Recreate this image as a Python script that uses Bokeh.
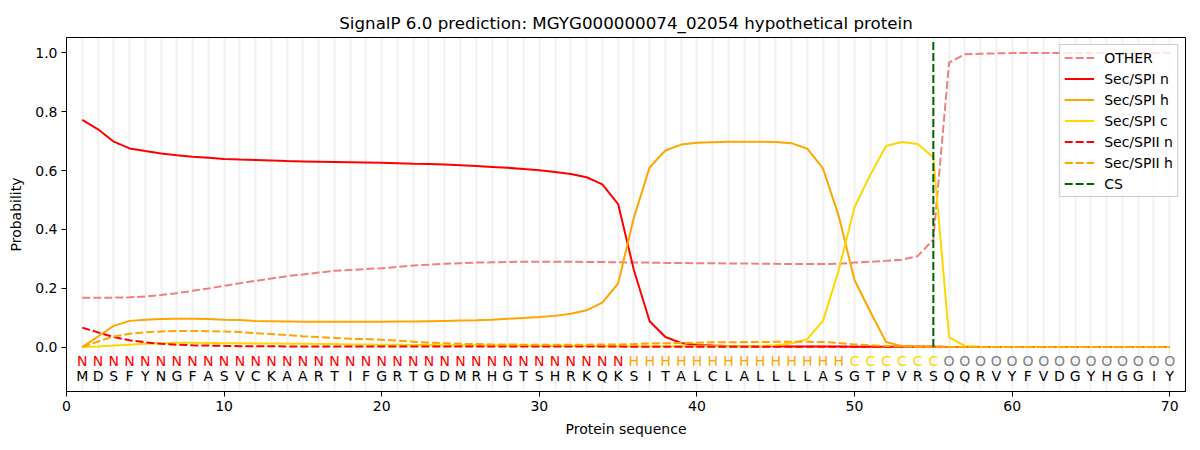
from bokeh.plotting import figure
from bokeh.models import FixedTicker, Range1d, ColumnDataSource, NumeralTickFormatter
from bokeh.core.properties import value
from bokeh.embed import file_html
from bokeh.resources import INLINE

title_text = "SignalP 6.0 prediction: MGYG000000074_02054 hypothetical protein"

sequence = list("MDSFYNGFASVCKAARTIFGRTGDMRHGTSHRKQKSITALCLALLLLASGTPVRSQQRVYFVDGYHGGIY")
annotation = list("N" * 35 + "H" * 14 + "C" * 6 + "O" * 15)
positions = list(range(1, 71))

other = [0.168, 0.168, 0.168, 0.169, 0.172, 0.177, 0.183, 0.191, 0.199, 0.208,
         0.217, 0.225, 0.233, 0.241, 0.247, 0.253, 0.259, 0.262, 0.265, 0.268,
         0.272, 0.277, 0.280, 0.283, 0.285, 0.287, 0.288, 0.289, 0.290, 0.290,
         0.290, 0.290, 0.289, 0.289, 0.288, 0.287, 0.287, 0.286, 0.286, 0.285,
         0.285, 0.284, 0.284, 0.283, 0.283, 0.282, 0.282, 0.282, 0.283, 0.287,
         0.290, 0.293, 0.297, 0.309, 0.365, 0.967, 0.995, 0.997, 0.998, 0.999,
         0.999, 0.999, 0.999, 0.999, 0.999, 0.999, 0.999, 0.999, 0.999, 0.999]

sec_spi_n = [0.772, 0.740, 0.698, 0.675, 0.666, 0.658, 0.652, 0.647, 0.643, 0.639,
             0.637, 0.636, 0.634, 0.632, 0.631, 0.630, 0.629, 0.628, 0.627, 0.626,
             0.625, 0.623, 0.622, 0.620, 0.618, 0.615, 0.612, 0.609, 0.605, 0.601,
             0.595, 0.588, 0.577, 0.553, 0.486, 0.262, 0.088, 0.034, 0.014, 0.007,
             0.005, 0.004, 0.003, 0.003, 0.003, 0.002, 0.002, 0.002, 0.002, 0.001,
             0.001, 0.001, 0.001, 0.001, 0.001, 0.0, 0.0, 0.0, 0.0, 0.0,
             0.0, 0.0, 0.0, 0.0, 0.0, 0.0, 0.0, 0.0, 0.0, 0.0]

sec_spi_h = [0.0, 0.036, 0.072, 0.089, 0.093, 0.095, 0.096, 0.096, 0.095, 0.093,
             0.092, 0.089, 0.088, 0.087, 0.086, 0.086, 0.086, 0.086, 0.086, 0.086,
             0.087, 0.087, 0.088, 0.089, 0.090, 0.091, 0.093, 0.096, 0.099, 0.102,
             0.106, 0.113, 0.125, 0.151, 0.216, 0.440, 0.611, 0.668, 0.688, 0.694,
             0.696, 0.698, 0.698, 0.698, 0.697, 0.693, 0.674, 0.607, 0.445, 0.228,
             0.120, 0.017, 0.003, 0.001, 0.0, 0.0, 0.0, 0.0, 0.0, 0.0,
             0.0, 0.0, 0.0, 0.0, 0.0, 0.0, 0.0, 0.0, 0.0, 0.0]

sec_spi_c = [0.0, 0.002, 0.005, 0.008, 0.011, 0.013, 0.015, 0.015, 0.014, 0.013,
             0.013, 0.012, 0.012, 0.011, 0.011, 0.010, 0.010, 0.009, 0.009, 0.008,
             0.008, 0.007, 0.007, 0.006, 0.006, 0.006, 0.005, 0.005, 0.005, 0.004,
             0.004, 0.004, 0.004, 0.003, 0.003, 0.003, 0.003, 0.003, 0.003, 0.003,
             0.003, 0.003, 0.003, 0.004, 0.006, 0.012, 0.027, 0.089, 0.262, 0.475,
             0.585, 0.683, 0.697, 0.690, 0.645, 0.033, 0.004, 0.001, 0.0, 0.0,
             0.0, 0.0, 0.0, 0.0, 0.0, 0.0, 0.0, 0.0, 0.0, 0.0]

sec_spii_n = [0.066, 0.050, 0.034, 0.023, 0.016, 0.011, 0.008, 0.006, 0.005, 0.004,
              0.003, 0.003, 0.003, 0.002, 0.002, 0.002, 0.002, 0.002, 0.002, 0.002,
              0.002, 0.002, 0.002, 0.002, 0.002, 0.002, 0.002, 0.002, 0.002, 0.002,
              0.002, 0.002, 0.002, 0.002, 0.002, 0.001, 0.001, 0.001, 0.001, 0.001,
              0.001, 0.001, 0.001, 0.001, 0.001, 0.001, 0.001, 0.001, 0.001, 0.001,
              0.001, 0.001, 0.001, 0.001, 0.001, 0.0, 0.0, 0.0, 0.0, 0.0,
              0.0, 0.0, 0.0, 0.0, 0.0, 0.0, 0.0, 0.0, 0.0, 0.0]

sec_spii_h = [0.0, 0.019, 0.036, 0.045, 0.050, 0.053, 0.055, 0.055, 0.054, 0.053,
              0.051, 0.047, 0.044, 0.041, 0.037, 0.034, 0.031, 0.028, 0.027, 0.025,
              0.022, 0.018, 0.015, 0.013, 0.011, 0.010, 0.009, 0.009, 0.008, 0.008,
              0.008, 0.008, 0.008, 0.009, 0.009, 0.010, 0.012, 0.013, 0.014, 0.015,
              0.016, 0.016, 0.017, 0.017, 0.018, 0.018, 0.018, 0.017, 0.014, 0.009,
              0.006, 0.004, 0.002, 0.001, 0.001, 0.0, 0.0, 0.0, 0.0, 0.0,
              0.0, 0.0, 0.0, 0.0, 0.0, 0.0, 0.0, 0.0, 0.0, 0.0]

cs_position = 55
cs_extent = [0.0, 1.04]

x_ticks = [0, 10, 20, 30, 40, 50, 60, 70]
y_ticks = [0.0, 0.2, 0.4, 0.6, 0.8, 1.0]

label_colors = {"N": "#ff0000", "H": "#ffa500", "C": "#ffd700", "O": "#808080"}

FONT = "DejaVu Sans"
FS = "14px"

p = figure(frame_width=1119, frame_height=354,
           x_range=Range1d(0, 71), y_range=Range1d(-0.151, 1.052),
           output_backend="svg", toolbar_location=None, title=title_text,
           min_border_left=66, min_border_right=7, min_border_top=37, min_border_bottom=51,
           background_fill_color="white", border_fill_color="white")

p.title.align = "center"
p.title.text_font = FONT
p.title.text_font_size = "16.7px"
p.title.text_font_style = "normal"
p.title.text_color = "black"

p.outline_line_color = "black"
p.outline_line_width = 1
p.outline_line_alpha = 1

# grid: vertical lines at every residue
p.ygrid.visible = False
p.xgrid.ticker = FixedTicker(ticks=positions)
p.xgrid.grid_line_color = "#808080"
p.xgrid.grid_line_alpha = 0.12
p.xgrid.grid_line_width = 2

for ax in (p.xaxis[0], p.yaxis[0]):
    ax.axis_line_color = "black"
    ax.major_tick_line_color = "black"
    ax.major_tick_out = 5
    ax.major_tick_in = 0
    ax.minor_tick_line_color = None
    ax.major_label_text_font = FONT
    ax.major_label_text_font_size = FS
    ax.major_label_text_color = "black"
    ax.axis_label_text_font = FONT
    ax.axis_label_text_font_size = FS
    ax.axis_label_text_font_style = "normal"
    ax.axis_label_text_color = "black"
    ax.major_label_standoff = 4

p.xaxis.ticker = FixedTicker(ticks=x_ticks)
p.yaxis.ticker = FixedTicker(ticks=y_ticks)
p.yaxis.formatter = NumeralTickFormatter(format="0.0")
p.xaxis.axis_label = "Protein sequence"
p.yaxis.axis_label = "Probability"
p.xaxis.axis_label_standoff = 7
p.yaxis.axis_label_standoff = 8

dash = "8 3"
lw = 2
p.line(positions, other, line_color="#f08080", line_dash=dash, line_width=lw, legend_label="OTHER")
p.line(positions, sec_spi_n, line_color="#ff0000", line_width=lw, legend_label="Sec/SPI n")
p.line(positions, sec_spi_h, line_color="#ffa500", line_width=lw, legend_label="Sec/SPI h")
p.line(positions, sec_spi_c, line_color="#ffd700", line_width=lw, legend_label="Sec/SPI c")
p.line(positions, sec_spii_n, line_color="#ff0000", line_dash=dash, line_width=lw, legend_label="Sec/SPII n")
p.line(positions, sec_spii_h, line_color="#ffa500", line_dash=dash, line_width=lw, legend_label="Sec/SPII h")
p.line([cs_position, cs_position], cs_extent, line_color="#006400", line_dash=dash, line_width=lw, legend_label="CS")

ann_y = -0.046
seq_y = -0.098
src = ColumnDataSource(dict(
    x=positions,
    ann=annotation,
    seq=sequence,
    ann_color=[label_colors[a] for a in annotation],
    ann_y=[ann_y] * len(positions),
    seq_y=[seq_y] * len(positions),
))
p.text(x="x", y="ann_y", text="ann", source=src, text_color="ann_color",
       text_align="center", text_baseline="middle",
       text_font=value(FONT), text_font_size=value(FS))
p.text(x="x", y="seq_y", text="seq", source=src, text_color="black",
       text_align="center", text_baseline="middle",
       text_font=value(FONT), text_font_size=value(FS))

lg = p.legend[0]
lg.location = "top_right"
lg.margin = 7
lg.padding = 4
lg.spacing = 4
lg.label_height = 17
lg.glyph_height = 17
lg.glyph_width = 30
lg.label_standoff = 10
lg.label_text_font = FONT
lg.label_text_font_size = FS
lg.label_text_color = "black"
lg.border_line_color = "#cccccc"
lg.border_line_alpha = 1
lg.background_fill_color = "white"
lg.background_fill_alpha = 0.8

open("out.html", "w").write(file_html(p, INLINE))
